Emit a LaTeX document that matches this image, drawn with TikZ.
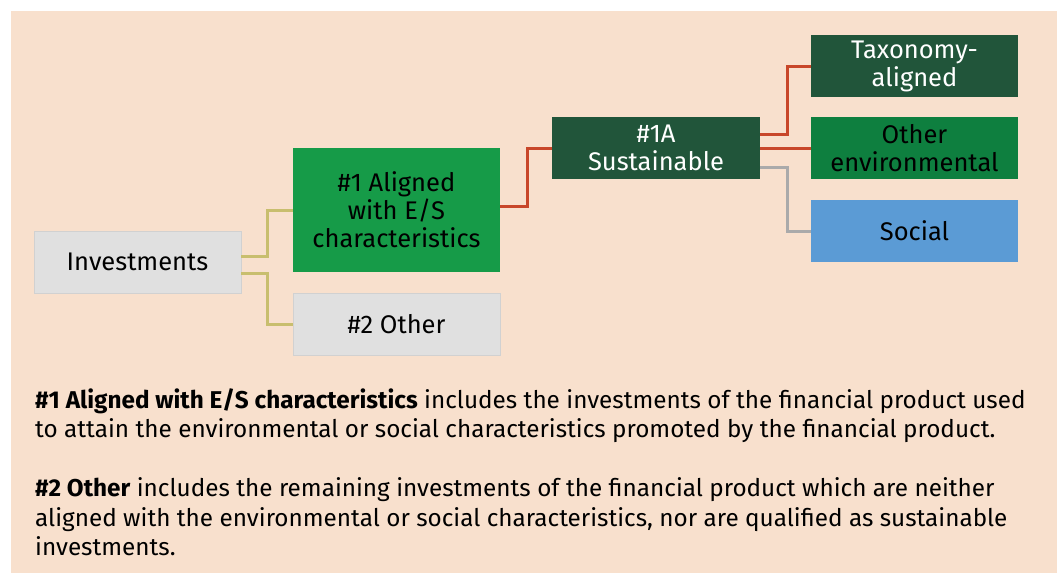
\documentclass[tikz,border=0pt]{standalone}
\usepackage{fontspec}
\setmainfont{Fira Sans}
\definecolor{peach}{HTML}{F8E0CD}
\definecolor{boxgray}{HTML}{E0E0E0}
\definecolor{greenA}{HTML}{169B48}
\definecolor{darkgreen}{HTML}{21553A}
\definecolor{greenB}{HTML}{0E7F3F}
\definecolor{blueS}{HTML}{5B9BD5}
\definecolor{khaki}{HTML}{C8BE6E}
\definecolor{redline}{HTML}{C8472A}
\definecolor{grayline}{HTML}{AAAAAA}
\tikzset{
  box/.style={rectangle, minimum width=207pt, minimum height=62pt, inner sep=1pt, align=center,
    font=\fontsize{25.5}{28}\selectfont},
  graybox/.style={box, fill=boxgray, draw=black!18, line width=0.8pt},
  conn/.style={line width=3pt},
}
\begin{document}
\begin{tikzpicture}[x=1pt,y=-1pt]
\useasboundingbox (0,0) rectangle (1057,576);
\fill[white] (0,0) rectangle (1057,576);
\fill[peach] (11,11) rectangle (1057,573);

\node[graybox] (inv) at (137.5,262) {Investments};
\node[box, fill=greenA, minimum height=124pt] (a1) at (396.5,210) {\#1 Aligned\\with E/S\\characteristics};
\node[graybox] (o2) at (396.5,324) {\#2 Other};
\node[box, fill=darkgreen, text=white, minimum width=208pt] (s1a) at (656,148) {\#1A\\Sustainable};
\node[box, fill=darkgreen, text=white] (tax) at (914.5,66) {Taxonomy-\\aligned};
\node[box, fill=greenB] (oenv) at (914.5,148) {Other\\environmental};
\node[box, fill=blueS] (soc) at (914.5,231) {Social};

\draw[conn, khaki] ([yshift=6pt]inv.east) -- ++(26,0) |- (a1.west);
\draw[conn, khaki] ([yshift=-11pt]inv.east) -- ++(26,0) |- (o2.west);
\draw[conn, redline] ([yshift=4pt]a1.east) -- ++(27,0) |- (s1a.west);
\draw[conn, redline] ([yshift=14pt]s1a.east) -- ++(27,0) |- (tax.west);
\draw[conn, redline] (s1a.east) -- (oenv.west);
\draw[conn, grayline] ([yshift=-19pt]s1a.east) -- ++(27,0) |- (soc.west);

\node[anchor=north west, align=left, inner sep=0pt, font=\fontsize{24.3}{29.5}\selectfont] (desc) at (35,388)
{\textbf{\#1 Aligned with E/S characteristics} includes the investments of the financial product used\\
to attain the environmental or social characteristics promoted by the financial product.\\[29.5pt]
\textbf{\#2 Other} includes the remaining investments of the financial product which are neither\\
aligned with the environmental or social characteristics, nor are qualified as sustainable\\
investments.};
\end{tikzpicture}
\end{document}
